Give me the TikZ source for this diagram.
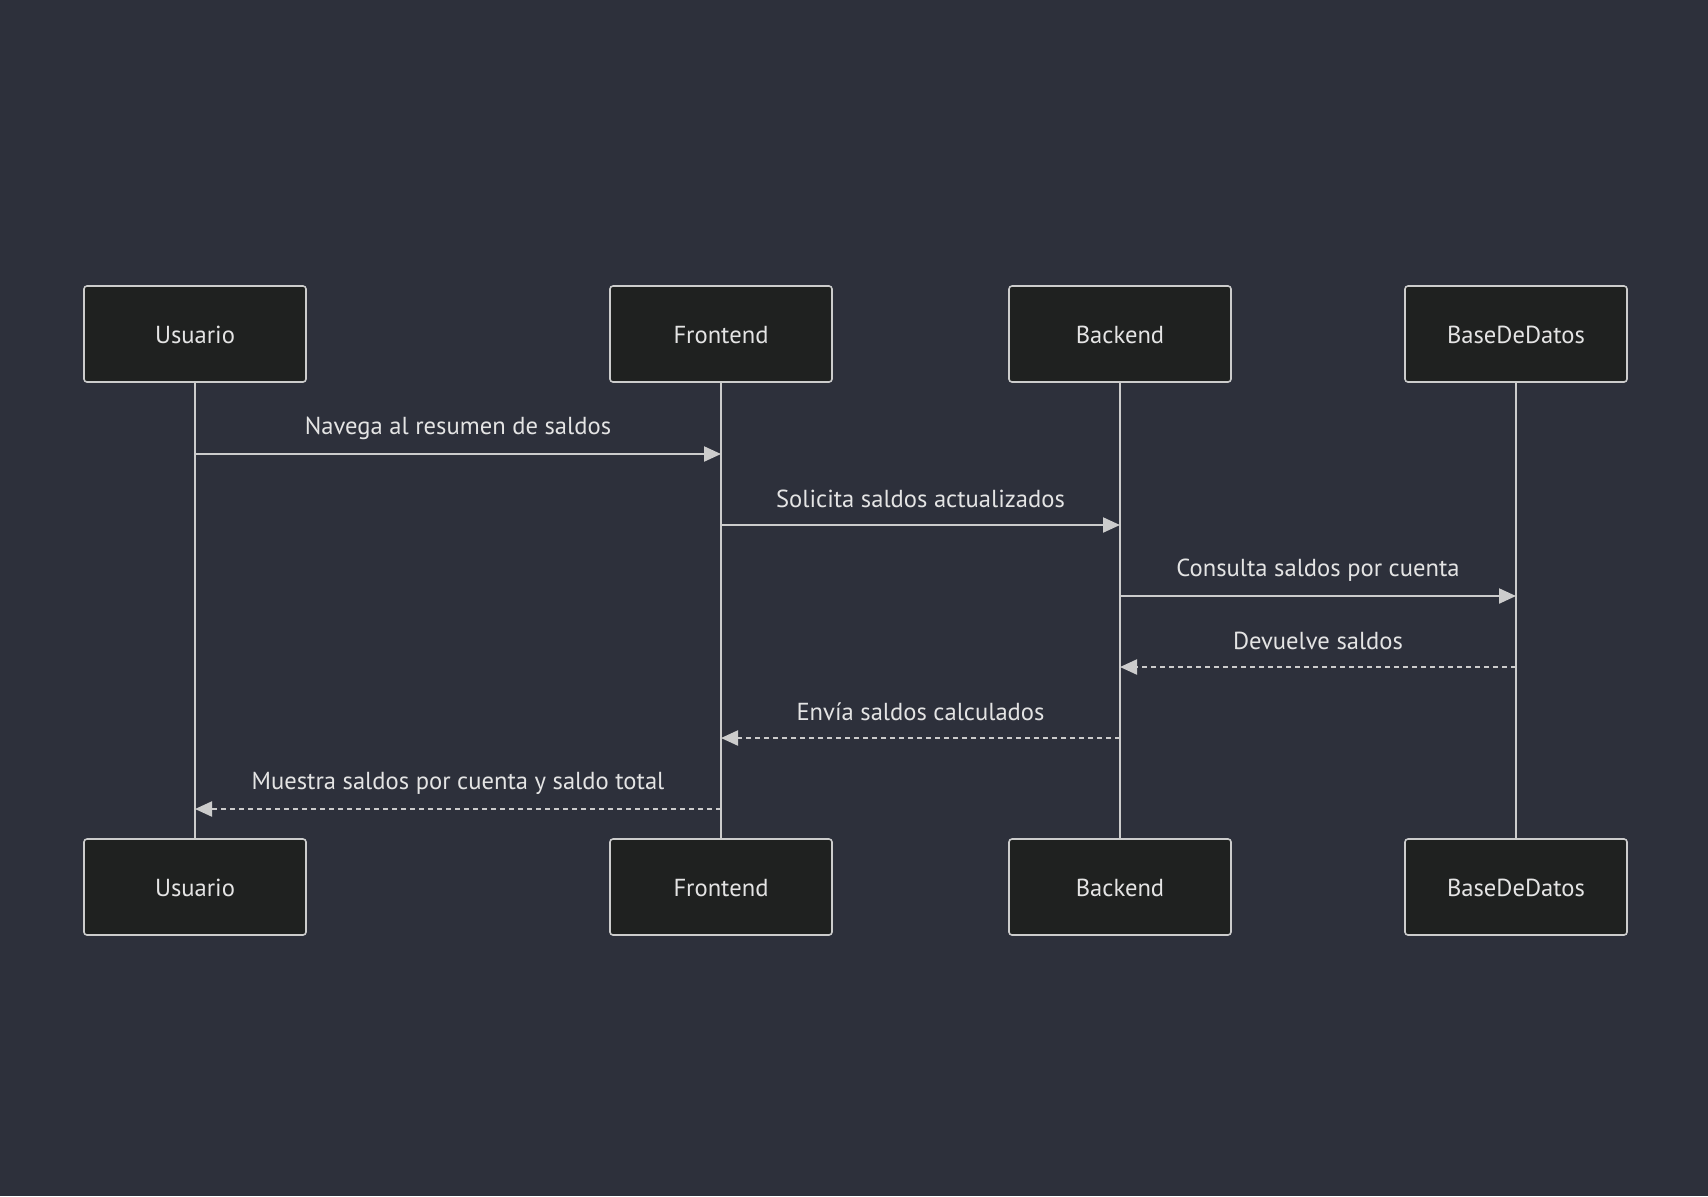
\documentclass[tikz,border=0pt]{standalone}
\usepackage{fontspec}
\setmainfont{PT Sans}
\usetikzlibrary{arrows.meta}

\definecolor{bgcol}{RGB}{45,48,59}
\definecolor{boxcol}{RGB}{31,33,32}
\definecolor{linecol}{RGB}{204,204,204}
\definecolor{txtcol}{RGB}{228,228,228}

\tikzset{
  actor/.style={draw=linecol, fill=boxcol, line width=0.8pt, rounded corners=1.5pt,
    minimum width=111pt, minimum height=48pt, text=txtcol, text height=11.5pt, text depth=2.5pt,
    font=\fontsize{12.3}{14}\selectfont},
  life/.style={draw=linecol, line width=1.1pt},
  msg/.style={draw=linecol, line width=1.1pt, -{Triangle[length=8.5pt,width=7.5pt]}},
  reply/.style={msg, dash pattern=on 2.5pt off 2pt},
  lbl/.style={text=txtcol, font=\fontsize{12.3}{14}\selectfont}
}

\begin{document}
\begin{tikzpicture}[x=0.5pt, y=-0.5pt]
%
\fill[bgcol] (0,0) rectangle (1708,1196);
% actors
\foreach \n/\x/\t in {usu/195/Usuario, fro/721/Frontend, bac/1120/Backend, bdd/1516/BaseDeDatos} {
\node[actor] (\n top) at (\x,334) {\t};
\node[actor] (\n bot) at (\x,887) {\t};
\draw[life] (\n top) -- (\n bot);
}
% mensajes
\foreach \a/\b/\y/\s/\t in {usu/fro/454/msg/Navega al resumen de saldos,
  fro/bac/525/msg/Solicita saldos actualizados,
  bac/bdd/596/msg/Consulta saldos por cuenta,
  bdd/bac/667/reply/Devuelve saldos,
  bac/fro/738/reply/Envía saldos calculados,
  fro/usu/809/reply/Muestra saldos por cuenta y saldo total} {
\draw[\s] (\a top |- 0,\y) -- node[lbl, midway, yshift=13pt] {\t} (\b top |- 0,\y);
}

\end{tikzpicture}
\end{document}
